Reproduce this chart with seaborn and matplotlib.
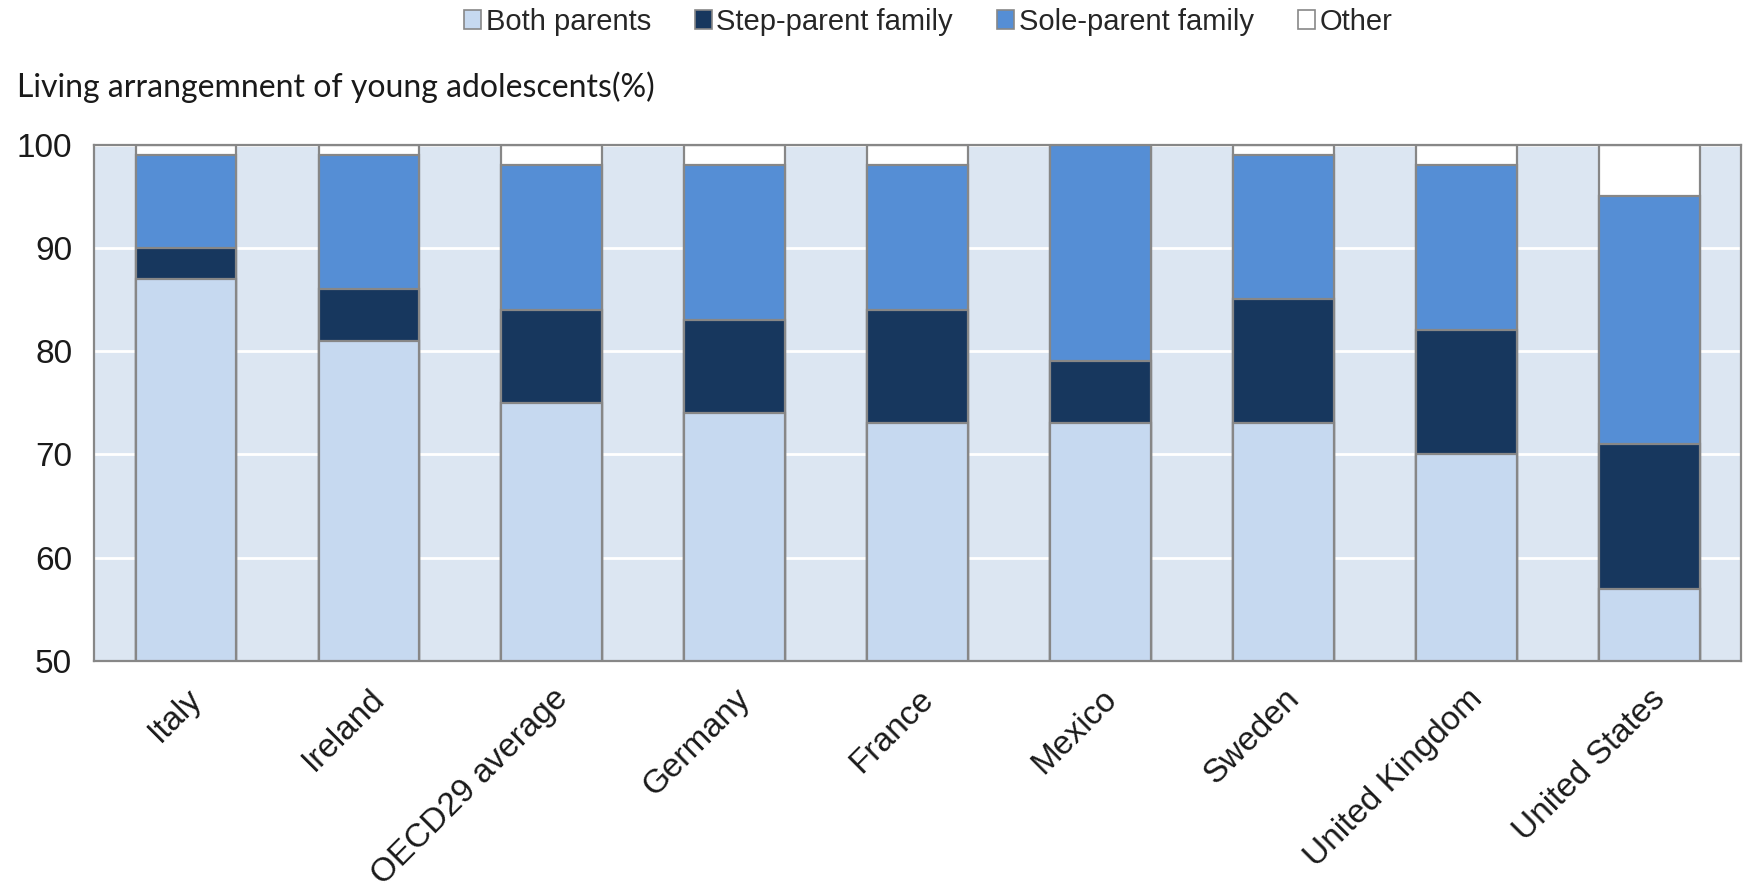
import matplotlib
matplotlib.use("Agg")
import matplotlib.pyplot as plt
import matplotlib.transforms as mtransforms
from matplotlib.patches import Patch
from matplotlib.ticker import FixedLocator
import numpy as np
import seaborn as sns

countries = ["Italy", "Ireland", "OECD29 average", "Germany", "France",
             "Mexico", "Sweden", "United Kingdom", "United States"]
both_parents = [87, 81, 75, 74, 73, 73, 73, 70, 57]
step_parent = [3, 5, 9, 9, 11, 6, 12, 12, 14]
sole_parent = [9, 13, 14, 15, 14, 21, 14, 16, 24]
other = [1, 1, 2, 2, 2, 0, 1, 2, 5]

series_names = ["Both parents", "Step-parent family", "Sole-parent family", "Other"]
series_colors = ["#C6D9F0", "#17375E", "#558ED5", "#FFFFFF"]
y_ticks = [50, 60, 70, 80, 90, 100]

sns.set_theme(style="white")
plt.rcParams["font.family"] = ["Liberation Sans", "DejaVu Sans"]

edge = "#878787"
text_color = "#1a1a1a"
fig = plt.figure(figsize=(17.43, 8.92), dpi=100)
ax = fig.add_axes([0.0542, 0.259, 0.9445, 0.579])
ax.set_facecolor("#DCE6F2")

# stacked bars: draw cumulative totals from the top layer down
layers = np.array([both_parents, step_parent, sole_parent, other], dtype=float)
cumulative = np.cumsum(layers, axis=0)
for i in reversed(range(len(series_names))):
    sns.barplot(x=countries, y=cumulative[i], color=series_colors[i], ax=ax,
                width=0.55, edgecolor=edge, linewidth=1.6, saturation=1,
                errorbar=None, zorder=2)

ax.set_xlim(-0.5, len(countries) - 0.5)
ax.set_ylim(50, 100)
ax.set_yticks(y_ticks)
ax.set_yticklabels([str(v) for v in y_ticks], fontsize=24, color=text_color)
ax.yaxis.grid(True, color="white", linewidth=2)
ax.xaxis.grid(False)
ax.set_axisbelow(True)

ax.set_xticks(range(len(countries)))
ax.set_xticklabels(countries, rotation=45, ha="right", rotation_mode="anchor",
                   fontsize=24, color=text_color)
shift = mtransforms.ScaledTranslation(-8 / 100, 0, fig.dpi_scale_trans)
for lbl in ax.get_xticklabels():
    lbl.set_transform(lbl.get_transform() + shift)
ax.xaxis.set_minor_locator(FixedLocator(np.arange(-0.5, len(countries), 1.0)))
ax.tick_params(axis="x", which="major", length=0, pad=16)
ax.tick_params(axis="x", which="minor", length=10, width=1.5, color=edge, direction="out")
ax.tick_params(axis="y", length=10, width=1.5, color=edge, direction="out", pad=6)
ax.set_xlabel("")
ax.set_ylabel("")

for s in ax.spines.values():
    s.set_visible(True)
    s.set_color(edge)
    s.set_linewidth(1.6)

fig.text(17 / 1743, 1 - 87 / 892, "Living arrangemnent of young adolescents(%)",
         fontsize=23, family=["Lato", "DejaVu Sans"], va="center", ha="left",
         color=text_color)

handles = [Patch(facecolor=c, edgecolor=edge, linewidth=1.2, label=n)
           for n, c in zip(series_names, series_colors)]
fig.legend(handles=handles, loc="center", bbox_to_anchor=(928 / 1743, 1 - 22 / 892),
           ncol=4, frameon=False, prop={"size": 21},
           handlelength=0.6, handleheight=0.6, handletextpad=0.15, columnspacing=1.5)

fig.savefig("out.png", dpi=100)
